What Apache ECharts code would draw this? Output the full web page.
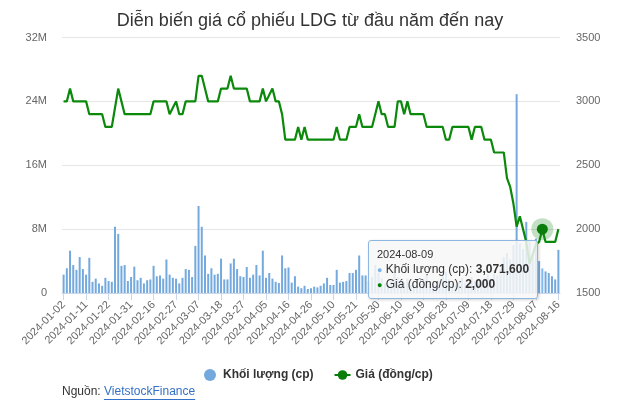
<!DOCTYPE html>
<html>
<head>
<meta charset="utf-8">
<script src="https://cdn.jsdelivr.net/npm/echarts@6/dist/echarts.min.js"></script>
<style>
html,body{margin:0;padding:0;background:#fff;}
#chart{width:620px;height:417px;}
</style>
</head>
<body>
<div id="chart"></div>
<script>
const titleText = 'Diễn biến giá cổ phiếu LDG từ đầu năm đến nay';
const volName = 'Khối lượng (cp)';
const priceName = 'Giá (đồng/cp)';

const dates = [
'2024-01-02','2024-01-03','2024-01-04','2024-01-05','2024-01-08','2024-01-09','2024-01-10','2024-01-11','2024-01-12','2024-01-15','2024-01-16','2024-01-17','2024-01-18','2024-01-19','2024-01-22','2024-01-23','2024-01-24','2024-01-25','2024-01-26','2024-01-29','2024-01-30','2024-01-31',
'2024-02-01','2024-02-02','2024-02-05','2024-02-06','2024-02-07','2024-02-15','2024-02-16','2024-02-19','2024-02-20','2024-02-21','2024-02-22','2024-02-23','2024-02-26','2024-02-27','2024-02-28','2024-02-29',
'2024-03-01','2024-03-04','2024-03-05','2024-03-06','2024-03-07','2024-03-08','2024-03-11','2024-03-12','2024-03-13','2024-03-14','2024-03-15','2024-03-18','2024-03-19','2024-03-20','2024-03-21','2024-03-22','2024-03-25','2024-03-26','2024-03-27','2024-03-28','2024-03-29',
'2024-04-01','2024-04-02','2024-04-03','2024-04-04','2024-04-05','2024-04-08','2024-04-09','2024-04-10','2024-04-11','2024-04-12','2024-04-15','2024-04-16','2024-04-17','2024-04-19','2024-04-22','2024-04-23','2024-04-24','2024-04-25','2024-04-26',
'2024-05-02','2024-05-03','2024-05-06','2024-05-07','2024-05-08','2024-05-09','2024-05-10','2024-05-13','2024-05-14','2024-05-15','2024-05-16','2024-05-17','2024-05-20','2024-05-21','2024-05-22','2024-05-23','2024-05-24','2024-05-27','2024-05-28','2024-05-29','2024-05-30','2024-05-31',
'2024-06-03','2024-06-04','2024-06-05','2024-06-06','2024-06-07','2024-06-10','2024-06-11','2024-06-12','2024-06-13','2024-06-14','2024-06-17','2024-06-18','2024-06-19','2024-06-20','2024-06-21','2024-06-24','2024-06-25','2024-06-26','2024-06-27','2024-06-28',
'2024-07-01','2024-07-02','2024-07-03','2024-07-04','2024-07-05','2024-07-08','2024-07-09','2024-07-10','2024-07-11','2024-07-12','2024-07-15','2024-07-16','2024-07-17','2024-07-18','2024-07-19','2024-07-22','2024-07-23','2024-07-24','2024-07-25','2024-07-26','2024-07-29','2024-07-30','2024-07-31',
'2024-08-01','2024-08-02','2024-08-05','2024-08-06','2024-08-07','2024-08-08','2024-08-09','2024-08-12','2024-08-13','2024-08-14','2024-08-15','2024-08-16'
];

// Volume in millions of shares
const volumeM = [
2.3,3.1,5.3,3.5,2.9,4.5,3.0,2.3,4.4,1.4,1.8,1.2,0.9,1.9,1.5,1.4,8.3,7.4,3.4,3.5,1.5,2.0,
3.3,1.6,1.9,1.2,1.6,1.7,3.4,2.1,2.2,1.8,4.2,2.3,1.9,1.8,1.2,1.9,
3.0,2.9,2.0,5.9,10.9,8.3,4.7,2.4,3.1,2.3,2.4,4.3,1.7,1.7,3.7,4.3,3.0,2.1,2.0,3.25,1.9,
2.3,3.5,2.2,5.3,1.9,2.5,1.8,1.4,1.25,4.7,3.1,3.2,1.3,2.1,0.8,0.6,0.9,0.5,0.6,
0.8,0.7,0.9,1.2,1.9,1.0,1.0,2.9,1.3,1.4,1.5,2.5,2.5,2.9,4.7,2.2,2.2,1.5,2.0,3.5,2.5,1.8,
1.2,1.0,1.5,2.8,2.0,1.6,1.2,1.8,1.0,0.9,1.3,1.1,1.7,2.2,1.4,1.0,0.9,1.5,2.1,2.6,
1.7,1.2,1.0,1.4,1.9,1.3,1.1,2.0,1.5,1.2,1.0,1.8,2.4,1.6,2.9,2.2,3.0,4.5,5.0,4.2,6.0,24.9,6.2,
5.5,8.9,6.5,4.8,6.8,4.0,3.0716,2.7,2.5,2.1,1.7,5.4
];

const price = [
3000,3000,3100,3000,3000,3000,3000,3000,2900,2900,2900,2900,2900,2800,2800,2800,2950,3100,3000,2900,2900,2900,
2900,2900,2900,2900,2900,2900,3000,3000,3000,3000,3000,2900,2950,3000,2900,2900,
3000,3000,3000,3000,3200,3200,3100,3000,3000,3000,3000,3100,3100,3100,3200,3100,3100,3100,3100,3100,3000,
3000,3000,3000,3100,3000,3050,3100,3000,3000,2900,2700,2700,2700,2700,2800,2700,2800,2700,2700,
2700,2700,2700,2700,2700,2700,2700,2800,2700,2700,2700,2800,2800,2800,2900,2800,2800,2800,2800,2900,3000,2900,
2900,2800,2800,2800,3000,3000,2900,3000,2900,2900,2900,2900,2900,2800,2800,2800,2800,2800,2800,2700,
2700,2800,2800,2800,2800,2800,2800,2700,2800,2800,2800,2700,2700,2700,2600,2600,2600,2600,2400,2330,2200,2020,2100,
2000,1900,1730,1800,1880,1900,2000,1900,1900,1900,1900,2000
];

const leftTicks = [0, 8e6, 16e6, 24e6, 32e6];
const rightTicks = [1500, 2000, 2500, 3000, 3500];
const hoverDate = '2024-08-09';

const volume = volumeM.map(v => Math.round(v * 1e6));
volume[dates.indexOf(hoverDate)] = 3071600;

const FONT = "'Liberation Sans', Arial, sans-serif";
const chart = echarts.init(document.getElementById('chart'), null, {renderer: 'canvas'});
const hi = dates.indexOf(hoverDate);
const fmt = n => String(n).replace(/\B(?=(\d{3})+(?!\d))/g, ',');

const c = document.createElement('canvas').getContext('2d');
c.font = '12px ' + FONT;
const nguonW = c.measureText('Nguồn: ').width;
const linkW = c.measureText('VietstockFinance').width;

chart.setOption({
  animation: false,
  textStyle: {fontFamily: FONT},
  title: {
    text: titleText, left: 'center', top: 7,
    textStyle: {fontFamily: FONT, fontSize: 18, fontWeight: 'normal', color: '#333'}
  },
  grid: {left: 62, right: 60, top: 37.5, bottom: 124, containLabel: false},
  legend: {
    left: 199, top: 364, itemGap: 20, itemWidth: 16, itemHeight: 12,
    textStyle: {fontFamily: FONT, fontSize: 12, fontWeight: 'bold', color: '#333'},
    data: [{name: volName, icon: 'circle'}, {name: priceName}]
  },
  tooltip: {
    trigger: 'axis',
    alwaysShowContent: true,
    axisPointer: {type: 'none'},
    transitionDuration: 0,
    position: () => [368, 240],
    backgroundColor: 'rgba(247,247,247,0.85)',
    borderColor: '#8db7e0',
    borderWidth: 1,
    padding: [6, 8],
    extraCssText: 'border-radius:3px;box-shadow:1px 1px 3px rgba(0,0,0,0.18);',
    formatter: (params) => {
      const d = params[0].axisValue;
      const i = dates.indexOf(d);
      return '<div style="font-family:Liberation Sans,Arial,sans-serif;color:#333;">' +
        '<div style="font-size:11px;line-height:15px;">' + d + '</div>' +
        '<div style="font-size:12px;line-height:14px;"><span style="color:#7cb5ec;font-size:9px;">●</span> ' + volName + ': <b>' + fmt(volume[i]) + '</b></div>' +
        '<div style="font-size:12px;line-height:14px;"><span style="color:#008000;font-size:9px;">●</span> ' + priceName + ': <b>' + fmt(price[i]) + '</b></div>' +
        '</div>';
    }
  },
  xAxis: {
    type: 'category',
    data: dates,
    boundaryGap: true,
    axisLine: {lineStyle: {color: '#ccd6eb'}},
    axisTick: {show: true, alignWithLabel: true, interval: 6, length: 7, lineStyle: {color: '#ccd6eb'}},
    axisLabel: {interval: 6, rotate: 45, margin: 10, fontSize: 11, color: '#666', fontFamily: FONT},
    splitLine: {show: false}
  },
  yAxis: [
    {
      type: 'value', min: leftTicks[0], max: leftTicks[leftTicks.length - 1], interval: leftTicks[1] - leftTicks[0],
      axisLine: {show: false}, axisTick: {show: false},
      axisLabel: {margin: 15, fontSize: 11, color: '#666', fontFamily: FONT,
        formatter: v => v === 0 ? '0' : (v / 1e6) + 'M'},
      splitLine: {lineStyle: {color: '#e6e6e6'}}
    },
    {
      type: 'value', min: rightTicks[0], max: rightTicks[rightTicks.length - 1], interval: rightTicks[1] - rightTicks[0],
      axisLine: {show: false}, axisTick: {show: false},
      axisLabel: {margin: 16, fontSize: 11, color: '#666', fontFamily: FONT, formatter: v => String(v)},
      splitLine: {show: false}
    }
  ],
  series: [
    {
      name: volName, type: 'bar', yAxisIndex: 0, data: volume, barWidth: 2,
      itemStyle: {color: '#74a9dd'}
    },
    {
      name: priceName, type: 'line', yAxisIndex: 1, data: price,
      showSymbol: false, symbol: 'circle', symbolSize: 8,
      lineStyle: {width: 2.2, color: '#0a7d0a'},
      itemStyle: {color: '#0a7d0a'},
      markPoint: {
        silent: true, symbol: 'circle', label: {show: false}, animation: false,
        data: [
          {coord: [dates[hi], price[hi]], symbolSize: 22, itemStyle: {color: 'rgba(20,130,20,0.25)'}},
          {coord: [dates[hi], price[hi]], symbolSize: 11, itemStyle: {color: '#0a7d0a'}}
        ]
      }
    }
  ],
  graphic: [
    {type: 'text', left: 62, top: 386, style: {text: 'Nguồn: ', fontFamily: FONT, fontSize: 12, fill: '#333'}},
    {type: 'text', left: 62 + nguonW, top: 386, style: {text: 'VietstockFinance', fontFamily: FONT, fontSize: 12, fill: '#3370c8'}},
    {type: 'line', shape: {x1: 62 + nguonW, y1: 399.5, x2: 62 + nguonW + linkW, y2: 399.5}, style: {stroke: '#3370c8', lineWidth: 1}}
  ]
});

chart.dispatchAction({type: 'showTip', seriesIndex: 1, dataIndex: hi});
</script>
</body>
</html>
